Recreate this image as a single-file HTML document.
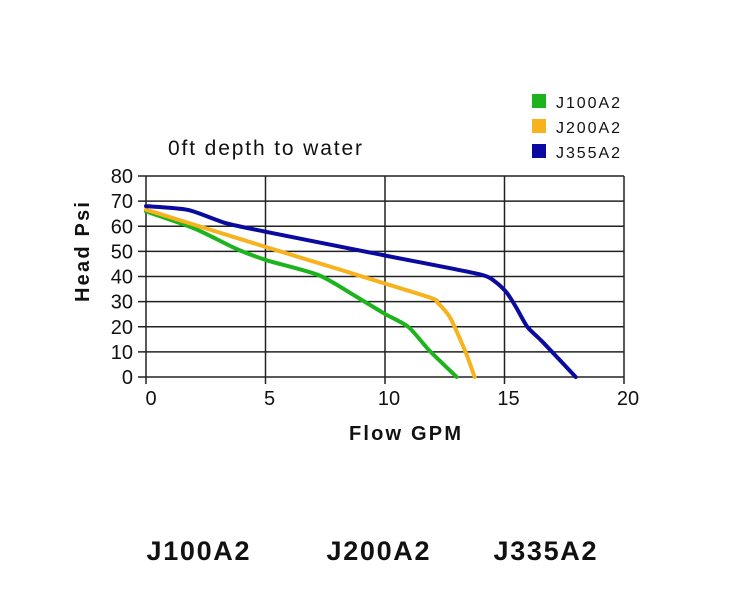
<!DOCTYPE html>
<html><head><meta charset="utf-8"><style>
body{margin:0;background:#fff;}
svg text{font-family:"Liberation Sans",sans-serif;}
</style></head><body>
<svg id="s" width="750" height="600" xmlns="http://www.w3.org/2000/svg">
<rect width="750" height="600" fill="#fff"/>
<g id="grid" stroke="#222" stroke-width="1.5" fill="none"></g>
<g id="lab" font-size="20" fill="#111"></g>
<text x="168" y="155" font-size="21" textLength="194" fill="#111">0ft depth to water</text>
<text transform="translate(89,252) rotate(-90)" text-anchor="middle" font-size="20" font-weight="bold" fill="#111" textLength="100">Head Psi</text>
<text x="405" y="440" text-anchor="middle" font-size="20" font-weight="bold" fill="#111" textLength="112">Flow GPM</text>
<rect x="532" y="94" width="14" height="14" fill="#1db31d"/>
<rect x="532" y="119" width="14" height="14" fill="#f7b21d"/>
<rect x="532" y="144" width="14" height="14" fill="#0a0aa0"/>
<text x="556" y="108" font-size="16" fill="#111" textLength="64">J100A2</text>
<text x="556" y="133" font-size="16" fill="#111" textLength="64">J200A2</text>
<text x="556" y="158" font-size="16" fill="#111" textLength="64">J355A2</text>
<text x="198" y="560" text-anchor="middle" font-size="27" font-weight="bold" fill="#111" textLength="103">J100A2</text>
<text x="378" y="560" text-anchor="middle" font-size="27" font-weight="bold" fill="#111" textLength="103">J200A2</text>
<text x="545" y="560" text-anchor="middle" font-size="27" font-weight="bold" fill="#111" textLength="103">J335A2</text>
<g id="curves" fill="none" stroke-width="4" stroke-linejoin="round" stroke-linecap="round"></g>
</svg>
<script>
var NS="http://www.w3.org/2000/svg";
function X(g){return 146+g*23.9;} function Y(p){return 377-p*2.5125;}
var grid=document.getElementById('grid'),lab=document.getElementById('lab');
function el(p,t,a,txt){var e=document.createElementNS(NS,t);for(var k in a)e.setAttribute(k,a[k]);if(txt!=null)e.textContent=txt;p.appendChild(e);}
for(var p=0;p<=80;p+=10){el(grid,'line',{x1:X(0)-8,x2:X(20),y1:Y(p),y2:Y(p)});el(lab,'text',{x:X(0)-13,y:Y(p)+7,'text-anchor':'end'},p);}
for(var g=0;g<=20;g+=5){el(grid,'line',{x1:X(g),x2:X(g),y1:Y(80),y2:Y(0)+7});el(lab,'text',{x:X(g)+(g==0?5:4),y:405,'text-anchor':'middle'},g);}
var data=[
['#1db31d',[[0,65.9],[2.05,59],[3.78,51],[5.07,46.4],[7.24,40.5],[8.83,31.8],[9.98,25.2],[10.98,19.9],[11.85,10.6],[13.0,0]]],
['#f7b21d',[[0,66.6],[4.93,52],[11.6,32.5],[12.2,29.5],[12.7,24],[13.1,16],[13.45,8],[13.75,0]]],
['#0a0aa0',[[0,68],[1.76,66.5],[3.35,61.2],[5.07,57.7],[9.98,48.4],[13.9,41],[14.6,38],[15.1,33.5],[15.5,27.5],[15.96,19.9],[16.6,13.9],[17.98,0]]]];
var c=document.getElementById('curves');
data.forEach(function(d){
 var P=d[1].map(function(q){return [X(q[0]),Y(q[1])];});
 var s='M'+P[0][0]+','+P[0][1];
 for(var i=0;i<P.length-1;i++){
  var p0=P[i-1]||P[i],p1=P[i],p2=P[i+1],p3=P[i+2]||p2,t=0.12;
  s+=' C'+(p1[0]+(p2[0]-p0[0])*t)+','+(p1[1]+(p2[1]-p0[1])*t)+' '+(p2[0]-(p3[0]-p1[0])*t)+','+(p2[1]-(p3[1]-p1[1])*t)+' '+p2[0]+','+p2[1];
 }
 el(c,'path',{stroke:d[0],d:s});
});
</script>
</body></html>
